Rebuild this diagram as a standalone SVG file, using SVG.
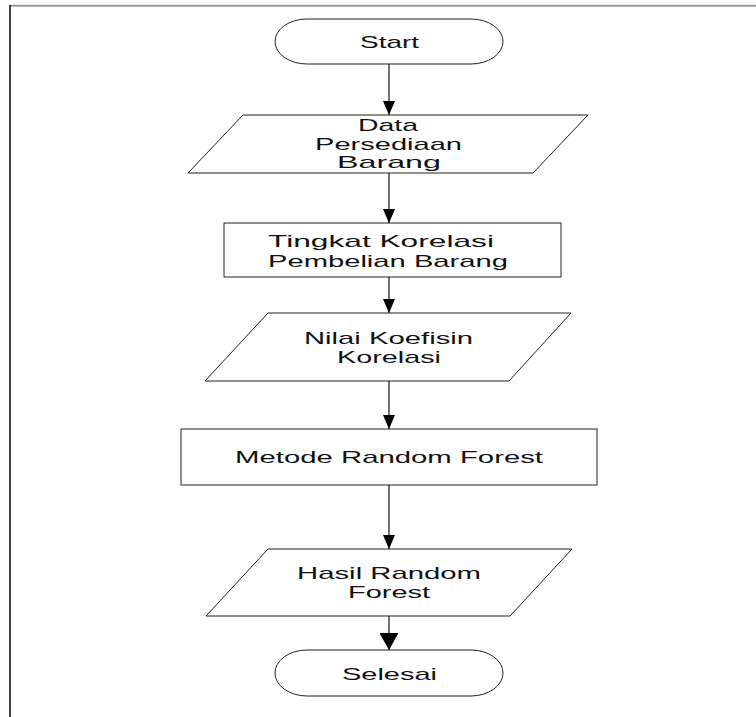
<svg xmlns="http://www.w3.org/2000/svg" width="756" height="717" viewBox="0 0 756 717">
<style>
.shape{fill:#fff;stroke:#222;stroke-width:1}
.t{font-family:"Liberation Sans",Arial,sans-serif;font-size:16px;fill:#111}
.c{text-anchor:middle}
.conn{stroke:#111;stroke-width:1.2;fill:none}
</style>
<defs>
<marker id="ah" viewBox="0 0 14 12" refX="14" refY="6" markerWidth="14" markerHeight="12" markerUnits="userSpaceOnUse" orient="auto">
<path d="M0,0 L14,6 L0,12 Z" fill="#000"/>
</marker>
<marker id="ah2" viewBox="0 0 17 19" refX="17" refY="9.5" markerWidth="17" markerHeight="19" markerUnits="userSpaceOnUse" orient="auto">
<path d="M0,0 L17,9.5 L0,19 Z" fill="#000"/>
</marker>
</defs>
<rect width="756" height="717" fill="#fff"/>
<g id="frame">
<line x1="9" y1="5.7" x2="756" y2="5.7" stroke="#9a9a9a" stroke-width="2"/>
<line x1="10" y1="5" x2="10" y2="717" stroke="#444" stroke-width="2"/>
</g>
<g id="connectors">
<line class="conn" x1="389" y1="64" x2="389" y2="115" marker-end="url(#ah)"/>
<line class="conn" x1="389" y1="173" x2="389" y2="223" marker-end="url(#ah)"/>
<line class="conn" x1="389" y1="277" x2="389" y2="313" marker-end="url(#ah)"/>
<line class="conn" x1="389" y1="381" x2="389" y2="429" marker-end="url(#ah)"/>
<line class="conn" x1="389" y1="485" x2="389" y2="549" marker-end="url(#ah)"/>
<line class="conn" x1="389" y1="616" x2="389" y2="650" stroke-width="3" marker-end="url(#ah2)"/>
</g>
<g id="start">
<rect class="shape" x="275" y="19" width="228" height="45" rx="32" ry="22.5"/>
<text class="t c" transform="translate(389.5 48) scale(1.75 1)" x="0" y="0" textLength="33.7" lengthAdjust="spacingAndGlyphs">Start</text>
</g>
<g id="data">
<polygon class="shape" points="243,115 588,115 533,173 188,173"/>
<text class="t c" transform="translate(388 131) scale(1.75 1)" x="0" y="0" textLength="34.3" lengthAdjust="spacingAndGlyphs">Data</text>
<text class="t c" transform="translate(388.5 149.5) scale(1.75 1)" x="0" y="0" textLength="84" lengthAdjust="spacingAndGlyphs">Persediaan</text>
<text class="t c" transform="translate(389 168) scale(1.75 1)" x="0" y="0" textLength="59.4" lengthAdjust="spacingAndGlyphs">Barang</text>
</g>
<g id="tingkat">
<rect class="shape" x="224" y="223" width="337" height="54"/>
<text class="t" transform="translate(268 247) scale(1.75 1)" x="0" y="0" textLength="129.1" lengthAdjust="spacingAndGlyphs">Tingkat Korelasi</text>
<text class="t" transform="translate(268 266.5) scale(1.75 1)" x="0" y="0" textLength="137.1" lengthAdjust="spacingAndGlyphs">Pembelian Barang</text>
</g>
<g id="nilai">
<polygon class="shape" points="268,313 571,313 509,381 205,381"/>
<text class="t c" transform="translate(388.5 344) scale(1.75 1)" x="0" y="0" textLength="96.6" lengthAdjust="spacingAndGlyphs">Nilai Koefisin</text>
<text class="t c" transform="translate(389 362.5) scale(1.75 1)" x="0" y="0" textLength="59.4" lengthAdjust="spacingAndGlyphs">Korelasi</text>
</g>
<g id="metode">
<rect class="shape" x="181" y="429" width="416" height="56"/>
<text class="t c" transform="translate(389 462.5) scale(1.75 1)" x="0" y="0" textLength="176" lengthAdjust="spacingAndGlyphs">Metode Random Forest</text>
</g>
<g id="hasil">
<polygon class="shape" points="268,549 572,549 510,616 206,616"/>
<text class="t c" transform="translate(389 578.5) scale(1.75 1)" x="0" y="0" textLength="105.1" lengthAdjust="spacingAndGlyphs">Hasil Random</text>
<text class="t c" transform="translate(389 598) scale(1.75 1)" x="0" y="0" textLength="46.9" lengthAdjust="spacingAndGlyphs">Forest</text>
</g>
<g id="selesai">
<rect class="shape" x="275" y="650" width="228" height="46" rx="32" ry="23"/>
<text class="t c" transform="translate(389.5 679.5) scale(1.75 1)" x="0" y="0" textLength="54.3" lengthAdjust="spacingAndGlyphs">Selesai</text>
</g>
</svg>
